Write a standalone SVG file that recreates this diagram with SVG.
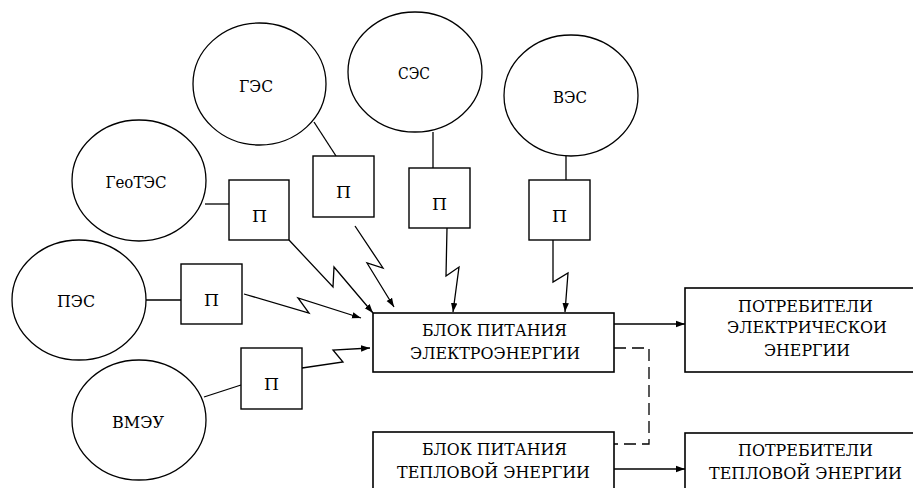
<svg xmlns="http://www.w3.org/2000/svg" width="913" height="488" viewBox="0 0 913 488" font-family="'DejaVu Serif', 'Liberation Serif', serif">
<defs>
<style>
.bg{fill:#fff}
.src ellipse{fill:#fff;stroke:#000;stroke-width:1.3}
.box rect{fill:#fff;stroke:#000;stroke-width:1.4}
.blk rect{fill:#fff;stroke:#000;stroke-width:1.6}
text{font-family:'DejaVu Serif','Liberation Serif',serif;fill:#000;text-anchor:middle}
.lbl{font-size:17px}
.p{font-size:16px}
.bt{font-size:17px}
#connectors line,#connectors polyline,#connectors path{fill:none;stroke:#000;stroke-width:1.3}
#connectors .arr{marker-end:url(#ah)}
#connectors .dash{stroke-dasharray:12 6}
</style>
<marker id="ah" markerUnits="userSpaceOnUse" markerWidth="10" markerHeight="8" refX="9" refY="4" orient="auto">
<path d="M0,0.8 L9,4 L0,7.2 Z" fill="#000"/>
</marker>
</defs>
<rect class="bg" x="0" y="0" width="913" height="488"/>

<g id="connectors">
<line x1="205" y1="204" x2="229" y2="204"/>
<line x1="314" y1="122" x2="336" y2="156"/>
<line x1="433" y1="132" x2="433" y2="168"/>
<line x1="566" y1="156" x2="566" y2="180"/>
<line x1="146" y1="300" x2="181" y2="300"/>
<line x1="204" y1="397" x2="241" y2="385"/>
<polyline class="arr" points="289,240 333,287 334,267 373,313"/>
<polyline class="arr" points="355,226 383,268 367,263 394,307"/>
<polyline class="arr" points="447,228 446,276 459,267 453,312"/>
<polyline class="arr" points="553,240 553,282 568,273 565,312"/>
<polyline class="arr" points="244,294 309,313 298,298 361,318"/>
<polyline class="arr" points="302,368 343,362 333,350 370,348"/>
<line class="arr" x1="614" y1="324" x2="685" y2="324"/>
<line class="arr" x1="614" y1="469" x2="685" y2="469"/>
<polyline class="dash" points="614,348 649,348 649,444 614,444"/>
</g>

<g id="node-ges" class="src"><ellipse cx="259.5" cy="84" rx="66.5" ry="61"/><text class="lbl" x="256" y="92" textLength="34" lengthAdjust="spacingAndGlyphs">ГЭС</text></g>
<g id="node-ses" class="src"><ellipse cx="415" cy="72" rx="67" ry="60"/><text class="lbl" x="414" y="79" textLength="32" lengthAdjust="spacingAndGlyphs">СЭС</text></g>
<g id="node-ves" class="src"><ellipse cx="571" cy="95.5" rx="67" ry="60.5"/><text class="lbl" x="570" y="103" textLength="34" lengthAdjust="spacingAndGlyphs">ВЭС</text></g>
<g id="node-geotes" class="src"><ellipse cx="139" cy="180.5" rx="67" ry="60.5"/><text class="lbl" x="136" y="188" textLength="61" lengthAdjust="spacingAndGlyphs">ГеоТЭС</text></g>
<g id="node-pes" class="src"><ellipse cx="79" cy="300" rx="67" ry="60"/><text class="lbl" x="76" y="307" textLength="38" lengthAdjust="spacingAndGlyphs">ПЭС</text></g>
<g id="node-vmeu" class="src"><ellipse cx="139" cy="420" rx="67" ry="60"/><text class="lbl" x="138" y="428" textLength="52" lengthAdjust="spacingAndGlyphs">ВМЭУ</text></g>

<g id="node-p-geotes" class="box"><rect x="229" y="180" width="60" height="60"/><text class="p" x="259.5" y="222" textLength="15" lengthAdjust="spacingAndGlyphs">П</text></g>
<g id="node-p-ges" class="box"><rect x="313" y="156" width="61" height="61"/><text class="p" x="343.5" y="198" textLength="15" lengthAdjust="spacingAndGlyphs">П</text></g>
<g id="node-p-ses" class="box"><rect x="409" y="168" width="61" height="60"/><text class="p" x="439.5" y="210" textLength="15" lengthAdjust="spacingAndGlyphs">П</text></g>
<g id="node-p-ves" class="box"><rect x="529" y="180" width="61" height="60"/><text class="p" x="559.5" y="222" textLength="15" lengthAdjust="spacingAndGlyphs">П</text></g>
<g id="node-p-pes" class="box"><rect x="181" y="264" width="61" height="60"/><text class="p" x="211.5" y="306" textLength="15" lengthAdjust="spacingAndGlyphs">П</text></g>
<g id="node-p-vmeu" class="box"><rect x="241" y="348" width="61" height="61"/><text class="p" x="271.5" y="390" textLength="15" lengthAdjust="spacingAndGlyphs">П</text></g>

<g id="node-block-el" class="blk"><rect x="373" y="313" width="241" height="59"/>
<text class="bt" x="494.5" y="336" textLength="145" lengthAdjust="spacingAndGlyphs">БЛОК ПИТАНИЯ</text>
<text class="bt" x="495" y="359" textLength="170" lengthAdjust="spacingAndGlyphs">ЭЛЕКТРОЭНЕРГИИ</text></g>
<g id="node-block-heat" class="blk"><rect x="373" y="432" width="241" height="70"/>
<text class="bt" x="494.5" y="455" textLength="145" lengthAdjust="spacingAndGlyphs">БЛОК ПИТАНИЯ</text>
<text class="bt" x="493.5" y="478" textLength="193" lengthAdjust="spacingAndGlyphs">ТЕПЛОВОЙ ЭНЕРГИИ</text></g>
<g id="node-cons-el" class="blk"><rect x="685" y="288" width="240" height="84"/>
<text class="bt" x="805.5" y="312" textLength="135" lengthAdjust="spacingAndGlyphs">ПОТРЕБИТЕЛИ</text>
<text class="bt" x="807" y="333" textLength="160" lengthAdjust="spacingAndGlyphs">ЭЛЕКТРИЧЕСКОИ</text>
<text class="bt" x="807" y="356" textLength="86" lengthAdjust="spacingAndGlyphs">ЭНЕРГИИ</text></g>
<g id="node-cons-heat" class="blk"><rect x="685" y="433" width="240" height="70"/>
<text class="bt" x="805.5" y="456" textLength="135" lengthAdjust="spacingAndGlyphs">ПОТРЕБИТЕЛИ</text>
<text class="bt" x="805.5" y="479" textLength="193" lengthAdjust="spacingAndGlyphs">ТЕПЛОВОЙ ЭНЕРГИИ</text></g>
</svg>
